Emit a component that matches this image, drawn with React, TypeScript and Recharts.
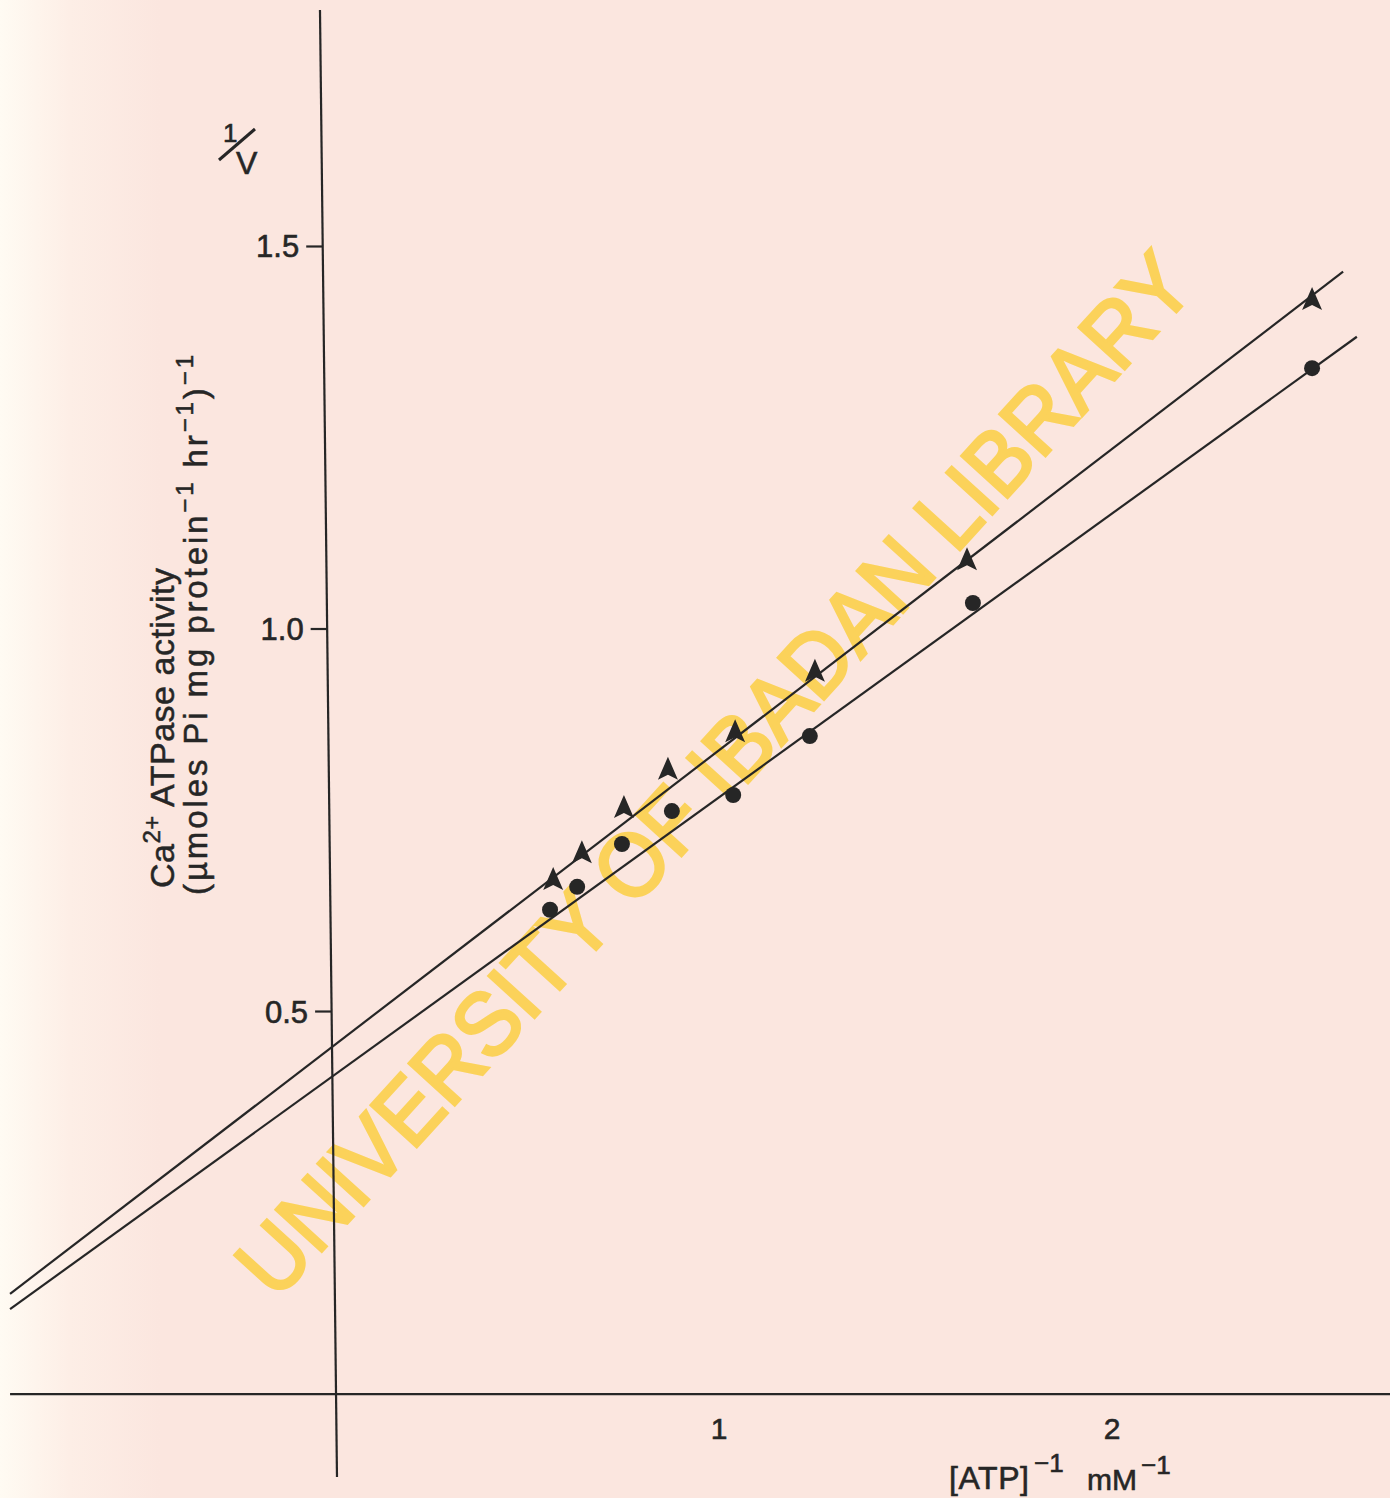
import React from 'react'
import { ReferenceLine, Scatter, ScatterChart, XAxis, YAxis } from 'recharts'

// values (1/[ATP] in mM^-1, 1/v)
const triangles = [
  { x: 0.573, y: 0.672 },
  { x: 0.646, y: 0.707 },
  { x: 0.753, y: 0.766 },
  { x: 0.865, y: 0.816 },
  { x: 1.036, y: 0.865 },
  { x: 1.239, y: 0.944 },
  { x: 1.626, y: 1.09 },
  { x: 2.504, y: 1.43 },
]
const circles = [
  { x: 0.565, y: 0.633 },
  { x: 0.634, y: 0.663 },
  { x: 0.748, y: 0.719 },
  { x: 0.875, y: 0.762 },
  { x: 1.031, y: 0.783 },
  { x: 1.226, y: 0.86 },
  { x: 1.641, y: 1.034 },
  { x: 2.504, y: 1.341 },
]
// fitted lines, ends as drawn
const triangleFit = [
  { x: -0.809, y: 0.131 },
  { x: 2.583, y: 1.467 },
]
const circleFit = [
  { x: -0.809, y: 0.111 },
  { x: 2.618, y: 1.382 },
]
const yTicks = [1.5, 1.0, 0.5]
const yTickLabels = ['1.5', '1.0', '0.5']
const xTicks = [1, 2]
const xTickLabels = ['1', '2']

const X_MIN = -0.8346
const X_MAX = 2.7023
const Y_MIN = -0.1359
const Y_MAX = 1.8222

// the hand-drawn y axis leans a little in the scan
const AXIS_TOP = { x: -0.0204, y: 1.809 }
const AXIS_BOTTOM = { x: 0.0229, y: -0.1085 }
const axisXAt = (y: number) =>
  AXIS_BOTTOM.x + ((y - AXIS_BOTTOM.y) / (AXIS_TOP.y - AXIS_BOTTOM.y)) * (AXIS_TOP.x - AXIS_BOTTOM.x)

const INK = '#262626'
const FONT = '"Liberation Sans", Arial, sans-serif'

type VB = { x: number; y: number; width: number; height: number }

const YTickLabel = ({ viewBox, value }: { viewBox?: VB; value: string }) =>
  viewBox ? (
    <text
      x={viewBox.x - 7}
      y={viewBox.y + 11}
      textAnchor="end"
      fontSize={31}
      fontFamily={FONT}
      fill={INK}
      stroke={INK}
      strokeWidth={0.6}
    >
      {value}
    </text>
  ) : null

const XTickLabel = ({ viewBox, value }: { viewBox?: VB; value: string }) =>
  viewBox ? (
    <text
      x={viewBox.x - 2}
      y={viewBox.y + 45}
      textAnchor="middle"
      fontSize={30}
      fontFamily={FONT}
      fill={INK}
      stroke={INK}
      strokeWidth={0.6}
    >
      {value}
    </text>
  ) : null

const TriangleMark = ({ cx, cy }: { cx?: number; cy?: number }) =>
  cx == null || cy == null ? null : (
    <polygon
      points={`${cx},${cy - 13} ${cx + 10},${cy + 10} ${cx},${cy + 5} ${cx - 10},${cy + 10}`}
      fill={INK}
    />
  )

const CircleMark = ({ cx, cy }: { cx?: number; cy?: number }) =>
  cx == null || cy == null ? null : <circle cx={cx} cy={cy} r={8} fill={INK} />

const NoMark = () => <g />

export default function App() {
  return (
    <div
      style={{
        position: 'absolute',
        left: 0,
        top: 0,
        width: 1390,
        height: 1498,
        background: 'linear-gradient(to right, #fffbf3 0px, #fdeee6 70px, #fbe6df 160px, #fbe6df 100%)',
        fontFamily: FONT,
      }}
    >
      <ScatterChart width={1390} height={1498} margin={{ top: 0, right: 0, bottom: 0, left: 0 }}>
        <XAxis type="number" dataKey="x" domain={[X_MIN, X_MAX]} hide allowDataOverflow />
        <YAxis type="number" dataKey="y" domain={[Y_MIN, Y_MAX]} hide allowDataOverflow />

        {/* watermark */}
        <text
          x={737}
          y={795}
          transform="rotate(-47.7 737 795)"
          textAnchor="middle"
          fontSize={90}
          fontFamily={FONT}
          fill="#fbd25a"
          stroke="#fbd25a"
          strokeWidth={3}
          textLength={1370}
          lengthAdjust="spacingAndGlyphs"
        >
          UNIVERSITY OF IBADAN LIBRARY
        </text>

        {/* axes */}
        <ReferenceLine segment={[AXIS_TOP, AXIS_BOTTOM]} stroke={INK} strokeWidth={2.2} />
        <ReferenceLine
          segment={[
            { x: -0.809, y: 0 },
            { x: X_MAX, y: 0 },
          ]}
          stroke={INK}
          strokeWidth={2.2}
        />
        {yTicks.map((v, i) => (
          <ReferenceLine
            key={v}
            segment={[
              { x: axisXAt(v) - 0.042, y: v },
              { x: axisXAt(v), y: v },
            ]}
            stroke={INK}
            strokeWidth={2.2}
            label={<YTickLabel value={yTickLabels[i]} />}
          />
        ))}
        {xTicks.map((v, i) => (
          <ReferenceLine
            key={v}
            segment={[
              { x: v, y: 0 },
              { x: v, y: -0.001 },
            ]}
            stroke="none"
            label={<XTickLabel value={xTickLabels[i]} />}
          />
        ))}

        <Scatter
          data={triangleFit}
          line={{ stroke: INK, strokeWidth: 2.2 }}
          shape={NoMark}
          isAnimationActive={false}
        />
        <Scatter
          data={circleFit}
          line={{ stroke: INK, strokeWidth: 2.2 }}
          shape={NoMark}
          isAnimationActive={false}
        />
        <Scatter data={triangles} shape={TriangleMark} isAnimationActive={false} />
        <Scatter data={circles} shape={CircleMark} isAnimationActive={false} />

        {/* 1/V */}
        <g fill={INK} fontFamily={FONT} stroke={INK} strokeWidth={0.6}>
          <text x={223} y={142} fontSize={26}>1</text>
          <line x1={219} y1={160} x2={255} y2={129} strokeWidth={3} />
          <text x={236} y={174} fontSize={32}>V</text>
        </g>

        {/* y title */}
        <text
          x={174}
          y={728}
          transform="rotate(-90 174 728)"
          textAnchor="middle"
          fontSize={34}
          fontFamily={FONT}
          fill={INK}
          stroke={INK}
          strokeWidth={0.5}
          textLength={320}
        >
          Ca
          <tspan dy={-14} fontSize={24}>2+</tspan>
          <tspan dy={14}> ATPase activity</tspan>
        </text>
        <text
          x={207}
          y={625}
          transform="rotate(-90 207 625)"
          textAnchor="middle"
          fontSize={33}
          fontFamily={FONT}
          fill={INK}
          stroke={INK}
          strokeWidth={0.5}
          textLength={540}
        >
          (µmoles  Pi  mg protein
          <tspan dy={-14} fontSize={24}>−1</tspan>
          <tspan dy={14}> hr</tspan>
          <tspan dy={-14} fontSize={24}>−1</tspan>
          <tspan dy={14}>)</tspan>
          <tspan dy={-14} fontSize={24}>−1</tspan>
        </text>

        {/* x title */}
        <g fill={INK} fontFamily={FONT} stroke={INK} strokeWidth={0.6}>
          <text x={949} y={1489} fontSize={32} textLength={80}>
            [ATP]
          </text>
          <text x={1034} y={1472} fontSize={26}>
            −1
          </text>
          <text x={1087} y={1490} fontSize={30}>
            mM
          </text>
          <text x={1141} y={1474} fontSize={26}>
            −1
          </text>
        </g>
      </ScatterChart>
    </div>
  )
}
